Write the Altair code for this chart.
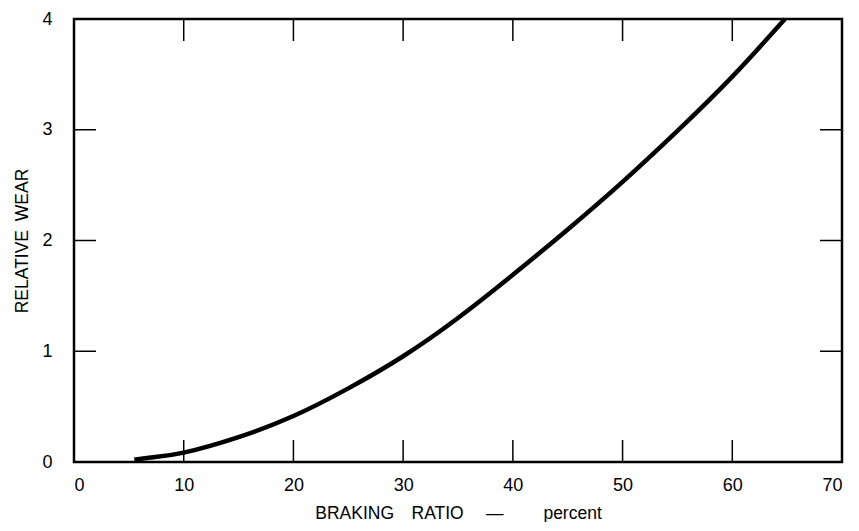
import altair as alt
import pandas as pd

# Curve: relative wear vs braking ratio (percent)
braking_ratio = [5.5, 7, 10, 15, 20, 25, 30, 35, 40, 45, 50, 55, 60, 64.8]
relative_wear = [0.02, 0.04, 0.085, 0.225, 0.415, 0.665, 0.955, 1.30, 1.69, 2.10, 2.53, 2.99, 3.48, 4.0]

x_ticks = [0, 10, 20, 30, 40, 50, 60, 70]
y_ticks = [0, 1, 2, 3, 4]
x_inner_ticks = [10, 20, 30, 40, 50, 60]
y_inner_ticks = [1, 2, 3]

W, H = 768, 443
TICK = 22

curve = pd.DataFrame({"x": braking_ratio, "y": relative_wear})
xt = pd.DataFrame({"x": x_inner_ticks})
yt = pd.DataFrame({"y": y_inner_ticks})

xscale = alt.Scale(domain=[0, 70], nice=False, zero=False)
yscale = alt.Scale(domain=[0, 4], nice=False, zero=False)

x_title = "BRAKING\u2002\u2002RATIO\u2002\u2002 \u2014\u2002\u2002\u2002\u2002 percent"
y_title = "RELATIVE\u2002WEAR"

line = alt.Chart(curve).mark_line(color="black", strokeWidth=4.5, interpolate="natural").encode(
    x=alt.X("x:Q", scale=xscale,
            axis=alt.Axis(values=x_ticks, format="d", title=x_title, labelPadding=14,
                          labelFontSize=18, titleBaseline="alphabetic", titleY=56,
                          titleFontSize=17.5)),
    y=alt.Y("y:Q", scale=yscale,
            axis=alt.Axis(values=y_ticks, format="d", title=y_title, labelPadding=22,
                          labelFontSize=18, titleBaseline="alphabetic", titleX=-47,
                          titleFontSize=17.5)),
)

bottom = alt.Chart(xt).mark_rule(color="black", strokeWidth=1.5).encode(
    x=alt.X("x:Q", scale=xscale), y=alt.value(H), y2=alt.value(H - TICK))
top = alt.Chart(xt).mark_rule(color="black", strokeWidth=1.5).encode(
    x=alt.X("x:Q", scale=xscale), y=alt.value(0), y2=alt.value(TICK))
left = alt.Chart(yt).mark_rule(color="black", strokeWidth=1.5).encode(
    y=alt.Y("y:Q", scale=yscale), x=alt.value(0), x2=alt.value(TICK))
right = alt.Chart(yt).mark_rule(color="black", strokeWidth=1.5).encode(
    y=alt.Y("y:Q", scale=yscale), x=alt.value(W), x2=alt.value(W - TICK))

chart = alt.layer(bottom, top, left, right, line).properties(
    width=W, height=H,
    padding={"left": 66, "top": 11, "right": 9, "bottom": 60},
    autosize=alt.AutoSizeParams(type="none"),
).configure_view(
    stroke="black", strokeWidth=2.5
).configure_axis(
    domain=False, ticks=False, grid=False,
    labelFont="Liberation Sans", labelFontSize=18, labelColor="black",
    titleFont="Liberation Sans", titleFontWeight="normal", titleColor="black",
)

chart.save("out.html", embed_options={"renderer": "svg", "actions": False})
